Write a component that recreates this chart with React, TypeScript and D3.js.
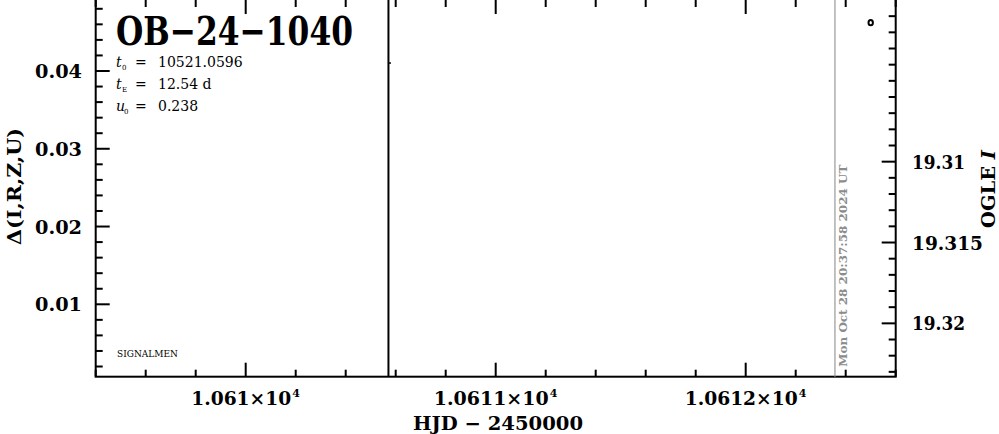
import React from "react";
import * as d3 from "d3";

const eventName = "OB-24-1040";
const paramSyms = ["t", "t", "u"];
const paramSubs = ["0", "E", "0"];
const paramValues = ["10521.0596", "12.54 d", "0.238"];
const xDomain = [10609.4, 10612.6];
const xMajorTicks = [10610, 10611, 10612];
const xTickMantissa = ["1.061", "1.0611", "1.0612"];
const xTickExponent = "4";
const leftDomain = [0.00069, 0.04913];
const leftMajorTicks = [0.01, 0.02, 0.03, 0.04];
const leftTickLabels = ["0.01", "0.02", "0.03", "0.04"];
const rightDomain = [19.3, 19.3233];
const rightMajorTicks = [19.31, 19.315, 19.32];
const rightTickLabels = ["19.31", "19.315", "19.32"];
const obsHJD = [10612.5];
const obsMag = [19.3014];
const blackLineHJD = 10610.571;
const blackMarkMag = 19.3039;
const dateLineHJD = 10612.357;
const dateText = "Mon Oct 28 20:37:58 2024 UT";

const W = 999;
const H = 434;
const L = 95.7;
const R = 895.7;
const T = 0;
const B = 376.7;
const FONT = "'DejaVu Serif', serif";

export default function App() {
  const x = d3.scaleLinear().domain(xDomain).range([L, R]);
  const yL = d3.scaleLinear().domain(leftDomain).range([B, T]);
  const yR = d3.scaleLinear().domain(rightDomain).range([T, B]);

  const xMinor = d3.range(Math.ceil(xDomain[0] / 0.2) * 0.2, xDomain[1] + 1e-9, 0.2);
  const lMinor = d3.range(0.002, leftDomain[1], 0.002);
  const rMinor = d3.range(19.301, rightDomain[1], 0.001);
  const isMajor = (v: number, arr: number[]) => arr.some((a) => Math.abs(a - v) < 1e-6);

  const minorLen = 7;
  const majorLen = 14;
  const xLabelWidths = [111, 126, 124];

  return (
    <svg width={W} height={H} style={{ position: "absolute", left: 0, top: 0, background: "#fff" }}>
      <rect x={0} y={0} width={W} height={H} fill="#fff" />
      <rect x={L} y={T - 2} width={R - L} height={B - T + 2} fill="none" stroke="#000" strokeWidth={2} />
      {xMinor.map((v, i) => {
        const len = isMajor(v, xMajorTicks) ? majorLen : minorLen;
        return (
          <g key={"xt" + i}>
            <rect x={x(v) - 1} y={B - len} width={2} height={len} fill="#000" />
            <rect x={x(v) - 1} y={T} width={2} height={len} fill="#000" />
          </g>
        );
      })}
      {lMinor.map((v, i) => (
        <rect key={"lt" + i} x={L} y={yL(v) - 1} width={isMajor(v, leftMajorTicks) ? majorLen : minorLen} height={2} fill="#000" />
      ))}
      {rMinor.map((v, i) => {
        const len = isMajor(v, rightMajorTicks) ? majorLen : minorLen;
        return <rect key={"rt" + i} x={R - len} y={yR(v) - 1} width={len} height={2} fill="#000" />;
      })}

      <line x1={x(dateLineHJD)} x2={x(dateLineHJD)} y1={T} y2={B} stroke="#999" strokeWidth={1.2} />
      <text
        transform={`translate(${x(dateLineHJD) + 12},${B - 10}) rotate(-90)`}
        fontFamily={FONT}
        fontWeight="bold"
        fontSize={11.5}
        fill="#8c8c8c"
        textLength={202}
        lengthAdjust="spacingAndGlyphs"
      >
        {dateText}
      </text>

      <line x1={x(blackLineHJD)} x2={x(blackLineHJD)} y1={T} y2={B} stroke="#000" strokeWidth={2} />
      <line x1={x(blackLineHJD)} x2={x(blackLineHJD) + 2.5} y1={yR(blackMarkMag)} y2={yR(blackMarkMag)} stroke="#000" strokeWidth={1.5} />

      {obsHJD.map((h, i) => (
        <ellipse key={"o" + i} cx={x(h)} cy={yR(obsMag[i])} rx={2.2} ry={2.6} fill="none" stroke="#000" strokeWidth={2} />
      ))}

      <text x={116} y={45} fontFamily={FONT} fontWeight="bold" fontSize={40} fill="#000" textLength={237} lengthAdjust="spacingAndGlyphs">
        {eventName.replace(/-/g, "\u2212")}
      </text>
      {paramSyms.map((s, i) => {
        const y = 67 + i * 22;
        return (
          <g key={"p" + i} fontFamily={FONT} fill="#000">
            <text x={116} y={y} fontSize={14} fontStyle="italic">{s}</text>
            <text x={i === 2 ? 124 : 122} y={y + 3} fontSize={7}>{paramSubs[i]}</text>
            <text x={135} y={y} fontSize={14}>=</text>
            <text x={158} y={y} fontSize={14}>{paramValues[i]}</text>
          </g>
        );
      })}
      <text x={117} y={357} fontFamily={FONT} fontSize={9} fill="#000">SIGNALMEN</text>

      {xMajorTicks.map((v, i) => {
        const w = xLabelWidths[i];
        const left = x(v) + 1 - w / 2;
        return (
          <g key={"xl" + i} fontFamily={FONT} fontWeight="bold" fill="#000">
            <text x={left} y={405} fontSize={19} textLength={w - 11} lengthAdjust="spacingAndGlyphs">
              {xTickMantissa[i] + "\u00d710"}
            </text>
            <text x={left + w - 10} y={397} fontSize={11}>{xTickExponent}</text>
          </g>
        );
      })}
      <text x={413} y={430} fontFamily={FONT} fontWeight="bold" fontSize={19} fill="#000" textLength={170} lengthAdjust="spacingAndGlyphs">
        HJD  −  2450000
      </text>

      {leftMajorTicks.map((v, i) => (
        <text key={"ll" + i} x={35} y={yL(v) + 7} fontFamily={FONT} fontWeight="bold" fontSize={19} fill="#000" textLength={47} lengthAdjust="spacingAndGlyphs">
          {leftTickLabels[i]}
        </text>
      ))}
      <text transform="translate(21,186.5) rotate(-90)" textAnchor="middle" fontFamily={FONT} fontWeight="bold" fontSize={19} fill="#000" textLength={117} lengthAdjust="spacingAndGlyphs">
        Δ(I,R,Z,U)
      </text>

      {rightMajorTicks.map((v, i) => (
        <text key={"rl" + i} x={912} y={yR(v) + 7} fontFamily={FONT} fontWeight="bold" fontSize={19} fill="#000" textLength={rightTickLabels[i].length === 5 ? 53 : 71} lengthAdjust="spacingAndGlyphs">
          {rightTickLabels[i]}
        </text>
      ))}
      <text transform="translate(995,189) rotate(-90)" textAnchor="middle" fontFamily={FONT} fontWeight="bold" fontSize={19} fill="#000" textLength={78} lengthAdjust="spacingAndGlyphs">
        OGLE <tspan fontStyle="italic">I</tspan>
      </text>
    </svg>
  );
}
